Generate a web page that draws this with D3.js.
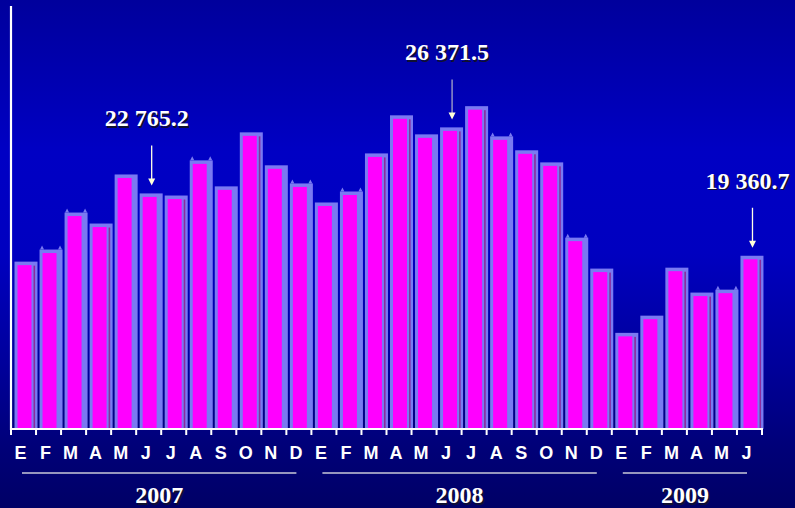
<!DOCTYPE html>
<html><head><meta charset="utf-8">
<script src="https://cdn.jsdelivr.net/npm/d3@7/dist/d3.min.js"></script>
<style>html,body{margin:0;padding:0;overflow:hidden;background:#0000a0}</style>
</head><body>
<svg id="c" width="795" height="508"></svg>
<script>
// ---- data ----
const months = ["E","F","M","A","M","J","J","A","S","O","N","D",
                "E","F","M","A","M","J","J","A","S","O","N","D",
                "E","F","M","A","M","J"];
const values = [19040, 19700, 21720, 21120, 23800, 22765.2, 22650, 24570, 23150, 26100, 24300, 23310,
                22270, 22870, 24950, 27030, 25990, 26371.5, 27530, 25880, 25120, 24460, 20350, 18660,
                15150, 16090, 18710, 17350, 17510, 19360.7];
const years = ["2007", "2008", "2009"];
const yearStart = [0, 12, 24];
const yearEnd = [11, 23, 29];
const annotIndex = [5, 17, 29];
const annotLabel = ["22 765.2", "26 371.5", "19 360.7"];
const earBars = [1, 2, 7, 11, 13, 19, 22, 28];
const stripeBars = [0, 3, 6, 9, 14, 15, 17, 18, 20, 21, 23, 24, 26, 27, 29];

// ---- chart ----
const svg = d3.select("#c");
const W = 795, H = 508;
const defs = svg.append("defs");
const bg = defs.append("linearGradient").attr("id", "bg").attr("x1", 0).attr("y1", 0).attr("x2", 0).attr("y2", 1);
[[0, "#00009c"], [0.3, "#0000c4"], [0.5, "#0000c0"], [0.72, "#00009a"], [0.88, "#000078"], [1, "#000066"]]
  .forEach(s => bg.append("stop").attr("offset", s[0]).attr("stop-color", s[1]));
svg.append("rect").attr("width", W).attr("height", H).attr("fill", "url(#bg)");

const x = d3.scaleBand().domain(d3.range(months.length)).range([11, 762]).padding(0);
const y = d3.scaleLinear().domain([9900, 33000]).range([429, 6]);
const base = y.range()[0];

const bars = svg.append("g");
values.forEach((v, i) => {
  const bx = x(i) + 3.5, bw = 23, top = y(v);
  const g = bars.append("g");
  g.append("rect").attr("x", bx).attr("y", top).attr("width", bw).attr("height", base - top).attr("fill", "#7a7af2");
  if (earBars.includes(i)) {
    g.append("path").attr("d", `M${bx+0.5},${top} L${bx+2.5},${top-4} L${bx+4.5},${top} Z M${bx+bw-4.5},${top} L${bx+bw-2.5},${top-4} L${bx+bw-0.5},${top} Z`).attr("fill", "#7a7af2");
  }
  g.append("rect").attr("x", bx + 3).attr("y", top + 3.5).attr("width", 14).attr("height", base - top - 3.5).attr("fill", "#ff00ff");
  if (stripeBars.includes(i)) {
    g.append("rect").attr("x", bx + 19).attr("y", top + 4).attr("width", 1.6).attr("height", base - top - 4).attr("fill", "#8c2a9e");
  }
});

// axes
svg.append("line").attr("x1", 11).attr("x2", 11).attr("y1", 6).attr("y2", base + 1).attr("stroke", "#fff").attr("stroke-width", 2.2);
const xAxis = d3.axisBottom(x).tickSize(0).tickFormat(() => "");
const ax = svg.append("g").attr("transform", `translate(0,${base})`).call(xAxis);
ax.select(".domain").remove();
ax.append("line").attr("x1", 10).attr("x2", 763).attr("y1", 0).attr("y2", 0).attr("stroke", "#fff").attr("stroke-width", 2.2);
const tickPos = d3.range(months.length + 1).map(k => 11 + k * x.bandwidth());
ax.selectAll("line.tk").data(tickPos).join("line").attr("class", "tk")
  .attr("x1", d => d).attr("x2", d => d).attr("y1", 0).attr("y2", 6)
  .attr("stroke", "#fff").attr("stroke-width", 2);

// month labels
svg.append("g").selectAll("text").data(months).join("text")
  .attr("x", (d, i) => x(i) + x.bandwidth() / 2 - 3)
  .attr("y", 459)
  .attr("text-anchor", "middle")
  .attr("font-family", "'Liberation Sans', Arial, sans-serif")
  .attr("font-weight", "bold").attr("font-size", 18)
  .attr("fill", "#fff").text(d => d);

// year lines and labels
years.forEach((yr, k) => {
  const x1 = x(yearStart[k]) + 11, x2 = x(yearEnd[k]) + x.bandwidth() - 15;
  svg.append("line").attr("x1", x1).attr("x2", x2).attr("y1", 473).attr("y2", 473)
    .attr("stroke", "#c8c8d8").attr("stroke-width", 1.5);
  const cx = (x1 + x2) / 2;
  [["#101030", 1.5], ["#ffffff", 0]].forEach(([c, o]) => {
    svg.append("text").attr("x", cx + o).attr("y", 503 + o).attr("text-anchor", "middle")
      .attr("font-family", "'Liberation Serif', 'Times New Roman', serif")
      .attr("font-weight", "bold").attr("font-size", 24).attr("fill", c).text(yr);
  });
});

// annotations
annotIndex.forEach((i, k) => {
  const v = values[i];
  const cx = x(i) + x.bandwidth() / 2;
  const top = y(v);
  const ax0 = cx + 3;
  const tip = top - 8, start = top - 48;
  svg.append("line").attr("x1", ax0).attr("x2", ax0).attr("y1", start).attr("y2", tip - 5)
    .attr("stroke", k === 1 ? "#a8a8c8" : "#ffffe6").attr("stroke-width", 1.3);
  svg.append("path").attr("d", `M${ax0-3.5},${tip-7} L${ax0+3.5},${tip-7} L${ax0},${tip} Z`).attr("fill", "#ffffd8");
  [["#101030", 1.5], ["#ffffff", 0]].forEach(([c, o]) => {
    svg.append("text").attr("x", cx - 2 + o).attr("y", top - 67 + o).attr("text-anchor", "middle")
      .attr("font-family", "'Liberation Serif', 'Times New Roman', serif")
      .attr("font-weight", "bold").attr("font-size", 24).attr("fill", c).text(annotLabel[k]);
  });
});
</script>
</body></html>
